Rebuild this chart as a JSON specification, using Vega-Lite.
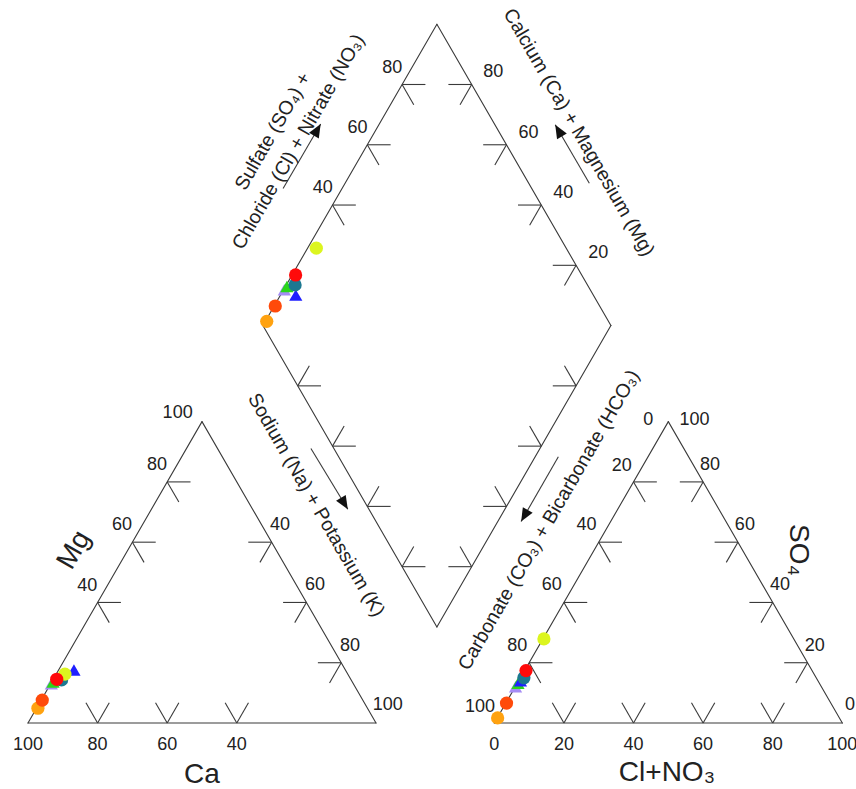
{
  "$schema": "https://vega.github.io/schema/vega-lite/v6.json",
  "width": 856,
  "height": 789,
  "padding": 0,
  "autosize": {"type": "none"},
  "background": "#ffffff",
  "config": {"view": {"stroke": null}, "text": {"font": "Liberation Sans", "color": "#222222"}},
  "datasets": {
    "samples": [
      {"id": "S1", "Ca": 94.7, "Mg": 4.9, "NaK": 0.4, "HCO3": 98.2, "SO4": 1.7, "Cl": 0.1},
      {"id": "S2", "Ca": 92.1, "Mg": 7.6, "NaK": 0.3, "HCO3": 93.2, "SO4": 6.6, "Cl": 0.2},
      {"id": "S3", "Ca": 86.8, "Mg": 13.0, "NaK": 0.2, "HCO3": 87.9, "SO4": 12.0, "Cl": 0.1},
      {"id": "S4", "Ca": 86.0, "Mg": 13.6, "NaK": 0.4, "HCO3": 86.6, "SO4": 13.2, "Cl": 0.2},
      {"id": "S5", "Ca": 78.0, "Mg": 17.6, "NaK": 4.4, "HCO3": 85.5, "SO4": 14.0, "Cl": 0.5},
      {"id": "S6", "Ca": 83.2, "Mg": 14.3, "NaK": 2.5, "HCO3": 84.0, "SO4": 15.0, "Cl": 1.0},
      {"id": "S7", "Ca": 81.3, "Mg": 16.2, "NaK": 2.5, "HCO3": 71.8, "SO4": 27.9, "Cl": 0.3},
      {"id": "S8", "Ca": 84.5, "Mg": 14.5, "NaK": 1.0, "HCO3": 82.2, "SO4": 17.4, "Cl": 0.4}
    ],
    "frame": [
      {"x": 0, "y": 0, "x2": 100, "y2": 0},
      {"x": 100, "y": 0, "x2": 50, "y2": 86.6},
      {"x": 50, "y": 86.6, "x2": 0, "y2": 0},
      {"x": 134, "y": 0, "x2": 234, "y2": 0},
      {"x": 234, "y": 0, "x2": 184, "y2": 86.6},
      {"x": 184, "y": 86.6, "x2": 134, "y2": 0},
      {"x": 67.5, "y": 114.2, "x2": 117.5, "y2": 200.8},
      {"x": 117.5, "y": 200.8, "x2": 167.5, "y2": 114.2},
      {"x": 167.5, "y": 114.2, "x2": 117.5, "y2": 27.6},
      {"x": 117.5, "y": 27.6, "x2": 67.5, "y2": 114.2}
    ],
    "ticks": [
      {"x": 20, "y": 0, "a": [60, 120]},
      {"x": 40, "y": 0, "a": [60, 120]},
      {"x": 60, "y": 0, "a": [60, 120]},
      {"x": 90, "y": 17.32, "a": [180, 240]},
      {"x": 80, "y": 34.64, "a": [180, 240]},
      {"x": 70, "y": 51.96, "a": [180, 240]},
      {"x": 40, "y": 69.28, "a": [0, 300]},
      {"x": 30, "y": 51.96, "a": [0, 300]},
      {"x": 20, "y": 34.64, "a": [0, 300]},
      {"x": 154, "y": 0, "a": [60, 120]},
      {"x": 174, "y": 0, "a": [60, 120]},
      {"x": 194, "y": 0, "a": [60, 120]},
      {"x": 214, "y": 0, "a": [60, 120]},
      {"x": 224, "y": 17.32, "a": [180, 240]},
      {"x": 214, "y": 34.64, "a": [180, 240]},
      {"x": 204, "y": 51.96, "a": [180, 240]},
      {"x": 194, "y": 69.28, "a": [180, 240]},
      {"x": 144, "y": 17.32, "a": [0, 300]},
      {"x": 154, "y": 34.64, "a": [0, 300]},
      {"x": 164, "y": 51.96, "a": [0, 300]},
      {"x": 174, "y": 69.28, "a": [0, 300]},
      {"x": 87.5, "y": 148.84, "a": [0, 300]},
      {"x": 97.5, "y": 166.16, "a": [0, 300]},
      {"x": 107.5, "y": 183.48, "a": [0, 300]},
      {"x": 127.5, "y": 183.48, "a": [180, 240]},
      {"x": 137.5, "y": 166.16, "a": [180, 240]},
      {"x": 147.5, "y": 148.84, "a": [180, 240]},
      {"x": 157.5, "y": 131.52, "a": [180, 240]},
      {"x": 77.5, "y": 96.88, "a": [0, 60]},
      {"x": 87.5, "y": 79.56, "a": [0, 60]},
      {"x": 97.5, "y": 62.24, "a": [0, 60]},
      {"x": 107.5, "y": 44.92, "a": [0, 60]},
      {"x": 157.5, "y": 96.88, "a": [180, 120]},
      {"x": 147.5, "y": 79.56, "a": [180, 120]},
      {"x": 137.5, "y": 62.24, "a": [180, 120]},
      {"x": 127.5, "y": 44.92, "a": [180, 120]}
    ],
    "arrows": [
      {"x": 84.1, "y": 172.1, "x2": 73.3, "y2": 153.6},
      {"x": 151.5, "y": 171.9, "x2": 161.3, "y2": 155.1},
      {"x": 91.9, "y": 61.4, "x2": 81.3, "y2": 78.9},
      {"x": 141.7, "y": 57.9, "x2": 152.4, "y2": 76.5}
    ],
    "labels": [
      {"x": 43.0, "y": 89.0, "t": "100"},
      {"x": 37.1, "y": 74.1, "t": "80"},
      {"x": 27.0, "y": 56.8, "t": "60"},
      {"x": 17.0, "y": 39.5, "t": "40"},
      {"x": 0, "y": -6.3, "t": "100"},
      {"x": 20, "y": -6.3, "t": "80"},
      {"x": 40, "y": -6.3, "t": "60"},
      {"x": 60, "y": -6.3, "t": "40"},
      {"x": 72.4, "y": 56.9, "t": "40"},
      {"x": 82.5, "y": 39.7, "t": "60"},
      {"x": 92.5, "y": 22.1, "t": "80"},
      {"x": 103.4, "y": 5.2, "t": "100"},
      {"x": 178.2, "y": 87.1, "t": "0"},
      {"x": 191.5, "y": 87.1, "t": "100"},
      {"x": 170.6, "y": 73.9, "t": "20"},
      {"x": 160.5, "y": 56.9, "t": "40"},
      {"x": 150.5, "y": 39.7, "t": "60"},
      {"x": 140.6, "y": 22.1, "t": "80"},
      {"x": 129.9, "y": 4.7, "t": "100"},
      {"x": 134, "y": -6.3, "t": "0"},
      {"x": 154, "y": -6.3, "t": "20"},
      {"x": 174, "y": -6.3, "t": "40"},
      {"x": 194, "y": -6.3, "t": "60"},
      {"x": 214, "y": -6.3, "t": "80"},
      {"x": 234, "y": -6.3, "t": "100"},
      {"x": 196, "y": 74.1, "t": "80"},
      {"x": 206, "y": 56.9, "t": "60"},
      {"x": 216.1, "y": 39.7, "t": "40"},
      {"x": 226.1, "y": 22.1, "t": "20"},
      {"x": 236.2, "y": 5.2, "t": "0"},
      {"x": 84.7, "y": 153.6, "t": "40"},
      {"x": 94.7, "y": 171.0, "t": "60"},
      {"x": 104.7, "y": 188.3, "t": "80"},
      {"x": 133.7, "y": 187.2, "t": "80"},
      {"x": 143.8, "y": 169.6, "t": "60"},
      {"x": 153.8, "y": 152.4, "t": "40"},
      {"x": 163.9, "y": 135.0, "t": "20"}
    ]
  },
  "encoding": {
    "x": {"field": "x", "type": "quantitative", "scale": {"domain": [-8.046, 237.931], "nice": false, "zero": false}, "axis": null},
    "y": {"field": "y", "type": "quantitative", "scale": {"domain": [-18.966, 207.759], "nice": false, "zero": false}, "axis": null}
  },
  "layer": [
    {
      "data": {"name": "frame"},
      "mark": {"type": "rule", "color": "#3a3a3a", "strokeWidth": 1.1, "strokeCap": "round"},
      "encoding": {"x2": {"field": "x2"}, "y2": {"field": "y2"}}
    },
    {
      "data": {"name": "ticks"},
      "transform": [
        {"flatten": ["a"]},
        {"calculate": "datum.x + 6.7*cos(datum.a*PI/180)", "as": "x2"},
        {"calculate": "datum.y + 6.7*sin(datum.a*PI/180)", "as": "y2"}
      ],
      "mark": {"type": "rule", "color": "#3a3a3a", "strokeWidth": 1.1},
      "encoding": {"x2": {"field": "x2"}, "y2": {"field": "y2"}}
    },
    {
      "data": {"name": "arrows"},
      "mark": {"type": "rule", "color": "#3a3a3a", "strokeWidth": 1.1},
      "encoding": {"x2": {"field": "x2"}, "y2": {"field": "y2"}}
    },
    {
      "data": {"name": "arrows"},
      "transform": [{"calculate": "atan2(datum.x - datum.x2, datum.y - datum.y2)*180/PI", "as": "rot"}],
      "mark": {"type": "point", "shape": "M0,0L-0.55,1.3L0.55,1.3Z", "filled": true, "color": "#111111", "size": 420, "opacity": 1},
      "encoding": {"angle": {"field": "rot", "type": "quantitative", "scale": null}}
    },
    {
      "data": {"name": "samples"},
      "transform": [
        {"calculate": "datum.NaK + datum.Mg/2", "as": "x"},
        {"calculate": "datum.Mg*0.8660254", "as": "y"}
      ],
      "mark": {"type": "point", "filled": true, "opacity": 1, "size": 175},
      "encoding": {
        "color": {"field": "id", "type": "nominal", "legend": null, "scale": {"domain": ["S1","S2","S3","S4","S5","S6","S7","S8"], "range": ["#ffa210","#ff4a0a","#a58cf5","#2bd61a","#1f1fff","#1c7891","#dcf51f","#ff0a0a"]}},
        "shape": {"field": "id", "type": "nominal", "legend": null, "scale": {"domain": ["S1","S2","S3","S4","S5","S6","S7","S8"], "range": ["circle","circle","triangle-up","triangle-up","triangle-up","circle","circle","circle"]}}
      }
    },
    {
      "data": {"name": "samples"},
      "transform": [
        {"calculate": "134 + datum.Cl + datum.SO4/2", "as": "x"},
        {"calculate": "datum.SO4*0.8660254", "as": "y"}
      ],
      "mark": {"type": "point", "filled": true, "opacity": 1, "size": 175},
      "encoding": {
        "color": {"field": "id", "type": "nominal", "legend": null, "scale": {"domain": ["S1","S2","S3","S4","S5","S6","S7","S8"], "range": ["#ffa210","#ff4a0a","#a58cf5","#2bd61a","#1f1fff","#1c7891","#dcf51f","#ff0a0a"]}},
        "shape": {"field": "id", "type": "nominal", "legend": null, "scale": {"domain": ["S1","S2","S3","S4","S5","S6","S7","S8"], "range": ["circle","circle","triangle-up","triangle-up","triangle-up","circle","circle","circle"]}}
      }
    },
    {
      "data": {"name": "samples"},
      "transform": [
        {"calculate": "67.5 + (datum.SO4 + datum.Cl + datum.NaK)/2", "as": "x"},
        {"calculate": "114.2 + (datum.SO4 + datum.Cl - datum.NaK)*0.8660254", "as": "y"}
      ],
      "mark": {"type": "point", "filled": true, "opacity": 1, "size": 175},
      "encoding": {
        "color": {"field": "id", "type": "nominal", "legend": null, "scale": {"domain": ["S1","S2","S3","S4","S5","S6","S7","S8"], "range": ["#ffa210","#ff4a0a","#a58cf5","#2bd61a","#1f1fff","#1c7891","#dcf51f","#ff0a0a"]}},
        "shape": {"field": "id", "type": "nominal", "legend": null, "scale": {"domain": ["S1","S2","S3","S4","S5","S6","S7","S8"], "range": ["circle","circle","triangle-up","triangle-up","triangle-up","circle","circle","circle"]}}
      }
    },
    {
      "data": {"name": "labels"},
      "mark": {"type": "text", "fontSize": 18, "align": "center", "baseline": "middle"},
      "encoding": {"text": {"field": "t", "type": "nominal"}}
    },
    {
      "data": {"values": [{"x": 50, "y": -15.0, "t": "Ca"}, {"x": 183.6, "y": -14.4, "t": "Cl+NO₃"}]},
      "mark": {"type": "text", "fontSize": 28, "align": "center", "baseline": "middle"},
      "encoding": {"text": {"field": "t", "type": "nominal"}}
    },
    {
      "data": {"values": [{"x": 13.3, "y": 49.7, "t": "Mg"}]},
      "mark": {"type": "text", "fontSize": 28, "align": "center", "baseline": "middle", "angle": 300},
      "encoding": {"text": {"field": "t", "type": "nominal"}}
    },
    {
      "data": {"values": [{"x": 221.3, "y": 49.7, "t": "SO₄"}]},
      "mark": {"type": "text", "fontSize": 28, "align": "center", "baseline": "middle", "angle": 90},
      "encoding": {"text": {"field": "t", "type": "nominal"}}
    },
    {
      "data": {"values": [
        {"x": 70.4, "y": 170.0, "t": "Sulfate (SO₄) +"},
        {"x": 77.7, "y": 167.0, "t": "Chloride (Cl) + Nitrate (NO₃)"},
        {"x": 149.7, "y": 58.3, "t": "Carbonate (CO₃) + Bicarbonate (HCO₃)"}
      ]},
      "mark": {"type": "text", "fontSize": 19.5, "align": "center", "baseline": "middle", "angle": 300},
      "encoding": {"text": {"field": "t", "type": "nominal"}}
    },
    {
      "data": {"values": [
        {"x": 158.3, "y": 169.7, "t": "Calcium (Ca) + Magnesium (Mg)"},
        {"x": 82.8, "y": 62.6, "t": "Sodium (Na) + Potassium (K)"}
      ]},
      "mark": {"type": "text", "fontSize": 19.5, "align": "center", "baseline": "middle", "angle": 60},
      "encoding": {"text": {"field": "t", "type": "nominal"}}
    }
  ]
}
